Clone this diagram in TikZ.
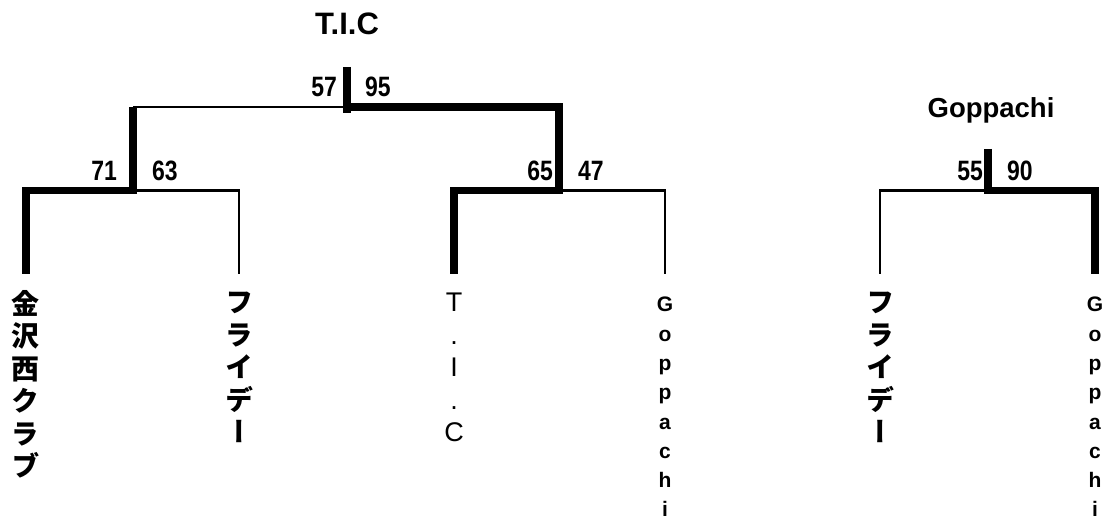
\documentclass[tikz,border=0pt]{standalone}
\usepackage{fontspec}
\setmainfont{Liberation Sans}
\newfontfamily\numfont{Liberation Sans}[FakeStretch=0.82]
\newfontfamily\cjk{Noto Sans CJK JP}[RawFeature=+vert]
\begin{document}
\begin{tikzpicture}[x=1pt,y=-1pt,
  win/.style={line width=7.5pt, line join=miter},
  lose/.style={line width=2.3pt, line join=miter},
  score/.style={inner sep=0pt, font=\numfont\bfseries\fontsize{28}{28}\selectfont},
  title/.style={inner sep=0pt, anchor=base, font=\bfseries\fontsize{31}{31}\selectfont},
  jpleaf/.style={inner sep=0pt, anchor=north, align=center, font=\cjk\bfseries\fontsize{28}{32.5}\selectfont},
  ticleaf/.style={inner sep=0pt, anchor=north, align=center, font=\fontsize{27}{32.5}\selectfont},
  gopleaf/.style={inner sep=0pt, anchor=north, align=center, font=\bfseries\fontsize{21}{29.3}\selectfont}
]
\useasboundingbox (0,0) rectangle (1118,521);

% junctions and leaf points
\coordinate (rt) at (347,67);
\coordinate (rb) at (347,113);
\coordinate (r)  at (347,107);
\coordinate (a)  at (133,107);
\coordinate (b)  at (559,107);
\coordinate (aj) at (133,190.5);
\coordinate (bj) at (559,190.5);
\coordinate (A)  at (26,190.5);   \coordinate (Ae) at (26,274);
\coordinate (B)  at (239,190.5);  \coordinate (Be) at (239,274);
\coordinate (C)  at (454,190.5);  \coordinate (Ce) at (454,274);
\coordinate (D)  at (665,190.5);  \coordinate (De) at (665,274);
\coordinate (gt) at (988,149);
\coordinate (gj) at (988,190.5);
\coordinate (E)  at (880,190.5);  \coordinate (Ee) at (880,274);
\coordinate (F)  at (1095,190.5); \coordinate (Fe) at (1095,274);

% bracket lines
\draw[lose] (r) -- (a);
\draw[lose] (aj) -- (B) -- (Be);
\draw[lose] (bj) -- (D) -- (De);
\draw[lose] (gj) -- (E) -- (Ee);
\draw[win] (rt) -- (rb);
\draw[win] (r) -- (b) -- (bj) -- (C) -- (Ce);
\draw[win] (a) -- (aj) -- (A) -- (Ae);
\draw[win] (gt) -- (gj) -- (F) -- (Fe);

% titles
\node[title] (t1) at (347,35) {T.I.C};
\node[title, font=\bfseries\fontsize{27.5}{27.5}\selectfont] (t2) at (991,118) {Goppachi};

% scores
\node[score, anchor=base east] (s57) at (337,97) {57};
\node[score, anchor=base west] (s95) at (365,97) {95};
\node[score, anchor=base east] (s71) at (117,181) {71};
\node[score, anchor=base west] (s63) at (152,181) {63};
\node[score, anchor=base east] (s65) at (553,181) {65};
\node[score, anchor=base west] (s47) at (578,181) {47};
\node[score, anchor=base east] (s55) at (983,181) {55};
\node[score, anchor=base west] (s90) at (1007,181) {90};

% team names (vertical)
\node[jpleaf] (nA) at (26,290) {金\\沢\\西\\ク\\ラ\\ブ};
\node[jpleaf] (nB) at (239,292) {フ\\ラ\\イ\\デ\\ー};
\node[ticleaf] (nC) at (454,293) {T\\.\\I\\.\\C};
\node[gopleaf] (nD) at (665,297) {G\\o\\p\\p\\a\\c\\h\\i};
\node[jpleaf] (nE) at (880,292) {フ\\ラ\\イ\\デ\\ー};
\node[gopleaf] (nF) at (1095,297) {G\\o\\p\\p\\a\\c\\h\\i};
\end{tikzpicture}
\end{document}
